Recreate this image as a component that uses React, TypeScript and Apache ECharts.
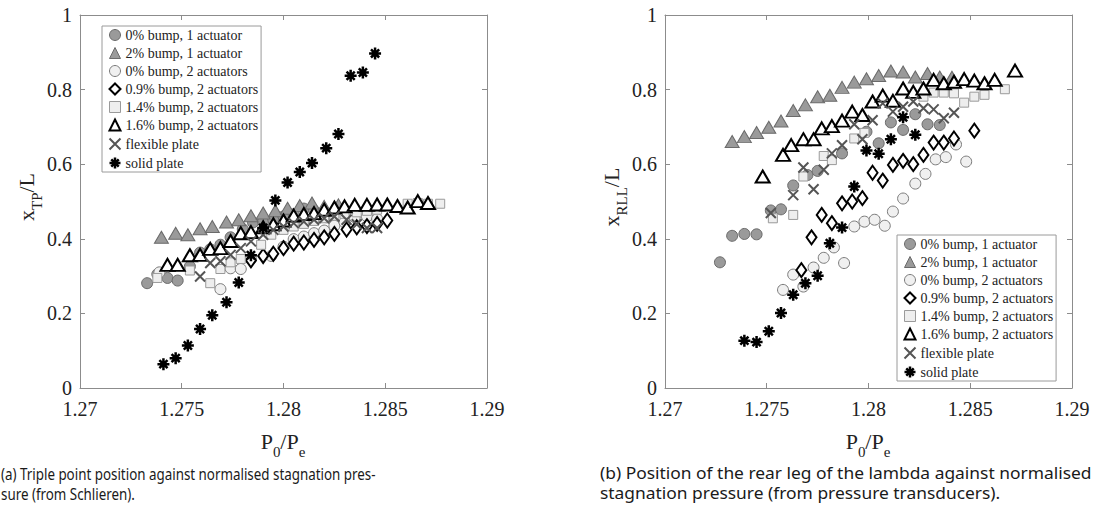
import React, { useEffect, useRef } from "react";
import * as echarts from "echarts";

// ---------- Data ----------
const seriesNames = [
  "0% bump, 1 actuator",
  "2% bump, 1 actuator",
  "0% bump, 2 actuators",
  "0.9% bump, 2 actuators",
  "1.4% bump, 2 actuators",
  "1.6% bump, 2 actuators",
  "flexible plate",
  "solid plate",
];

const xTickValues = [1.27, 1.275, 1.28, 1.285, 1.29];
const yTickValues = [0, 0.2, 0.4, 0.6, 0.8, 1];

// Panel (a): triple point position x_TP/L
const tpBump0Act1 = [[1.2733,0.281],[1.2738,0.305],[1.2743,0.295],[1.2748,0.288],[1.2754,0.326],[1.2759,0.363],[1.2764,0.372],[1.2769,0.384],[1.2774,0.404],[1.278,0.426],[1.2785,0.444],[1.279,0.446],[1.2795,0.451],[1.28,0.46],[1.2805,0.466],[1.281,0.481],[1.2815,0.476],[1.2821,0.458]];
const tpBump2Act1 = [[1.274,0.404],[1.2747,0.415],[1.2753,0.411],[1.2759,0.427],[1.2765,0.433],[1.2772,0.445],[1.2778,0.451],[1.2784,0.462],[1.279,0.469],[1.2796,0.475],[1.2802,0.482],[1.2808,0.489],[1.2814,0.496],[1.282,0.487],[1.2827,0.491]];
const tpBump0Act2 = [[1.2739,0.31],[1.2769,0.265],[1.2774,0.321],[1.2779,0.319],[1.2784,0.346],[1.2794,0.354],[1.28,0.379],[1.2805,0.399],[1.281,0.406],[1.2815,0.415],[1.282,0.422],[1.2825,0.435],[1.283,0.444],[1.2835,0.458],[1.2841,0.46],[1.2846,0.453]];
const tpBump09Act2 = [[1.2784,0.342],[1.279,0.354],[1.2795,0.36],[1.28,0.375],[1.2805,0.387],[1.281,0.39],[1.2815,0.397],[1.282,0.404],[1.2825,0.413],[1.2831,0.425],[1.2836,0.431],[1.2841,0.434],[1.2846,0.44],[1.2851,0.449]];
const tpBump14Act2 = [[1.2738,0.295],[1.2754,0.315],[1.2764,0.281],[1.2769,0.319],[1.2774,0.337],[1.2779,0.346],[1.2789,0.384],[1.2794,0.411],[1.28,0.424],[1.2805,0.433],[1.281,0.44],[1.2815,0.448],[1.282,0.455],[1.2825,0.462],[1.283,0.467],[1.2836,0.471],[1.2841,0.475],[1.2846,0.478],[1.2861,0.494],[1.2866,0.496],[1.2871,0.494],[1.2877,0.494]];
const tpBump16Act2 = [[1.2743,0.33],[1.2748,0.33],[1.2754,0.356],[1.2759,0.357],[1.2764,0.373],[1.2769,0.375],[1.2774,0.394],[1.2779,0.415],[1.2784,0.418],[1.279,0.431],[1.2795,0.439],[1.28,0.449],[1.2805,0.462],[1.281,0.466],[1.2815,0.469],[1.282,0.478],[1.2825,0.484],[1.283,0.487],[1.2835,0.491],[1.2841,0.491],[1.2846,0.492],[1.2851,0.492],[1.2856,0.488],[1.2861,0.484],[1.2866,0.501],[1.2871,0.496]];
const tpFlexible = [[1.2759,0.299],[1.2764,0.335],[1.2769,0.34],[1.2774,0.357],[1.2779,0.375],[1.2784,0.393],[1.279,0.411],[1.2795,0.424],[1.28,0.433],[1.2805,0.442],[1.281,0.446],[1.2815,0.451],[1.282,0.455],[1.2825,0.46],[1.2831,0.451],[1.2836,0.439],[1.2841,0.429],[1.2846,0.429]];
const tpSolid = [[1.2741,0.064],[1.2747,0.08],[1.2753,0.114],[1.2759,0.158],[1.2765,0.195],[1.2772,0.23],[1.2778,0.283],[1.2784,0.356],[1.279,0.429],[1.2796,0.503],[1.2802,0.551],[1.2808,0.579],[1.2814,0.603],[1.2821,0.643],[1.2827,0.681],[1.2833,0.837],[1.2839,0.846],[1.2845,0.897]];

// Panel (b): rear leg of the lambda x_RLL/L
const rllBump0Act1 = [[1.2727,0.337],[1.2733,0.408],[1.2739,0.413],[1.2745,0.412],[1.2752,0.476],[1.2757,0.479],[1.2763,0.543],[1.277,0.571],[1.2775,0.582],[1.2787,0.629],[1.2799,0.687],[1.2805,0.656],[1.2811,0.712],[1.2817,0.692],[1.2823,0.734],[1.2829,0.707],[1.2835,0.705]];
const rllBump2Act1 = [[1.2733,0.661],[1.2739,0.674],[1.2745,0.685],[1.2751,0.699],[1.2757,0.716],[1.2763,0.744],[1.2769,0.759],[1.2775,0.781],[1.2781,0.785],[1.2787,0.806],[1.2793,0.82],[1.2799,0.829],[1.2805,0.838],[1.2811,0.85],[1.2817,0.847],[1.2823,0.834],[1.2829,0.843],[1.2835,0.834],[1.2841,0.833]];
const rllBump0Act2 = [[1.2758,0.263],[1.2763,0.304],[1.2768,0.272],[1.2773,0.323],[1.2778,0.349],[1.2783,0.377],[1.2788,0.335],[1.2793,0.433],[1.2798,0.446],[1.2803,0.451],[1.2808,0.435],[1.2812,0.473],[1.2817,0.508],[1.2823,0.548],[1.2828,0.574],[1.2833,0.613],[1.2838,0.619],[1.2843,0.653],[1.2848,0.607]];
const rllBump09Act2 = [[1.2767,0.316],[1.2772,0.404],[1.2777,0.464],[1.2782,0.442],[1.2787,0.495],[1.2792,0.5],[1.2797,0.509],[1.2802,0.577],[1.2807,0.556],[1.2812,0.598],[1.2817,0.609],[1.2822,0.6],[1.2827,0.625],[1.2832,0.658],[1.2837,0.658],[1.2842,0.669],[1.2852,0.69]];
const rllBump14Act2 = [[1.2753,0.455],[1.2763,0.464],[1.2768,0.567],[1.2778,0.622],[1.2782,0.611],[1.2793,0.669],[1.2798,0.684],[1.2827,0.781],[1.2832,0.792],[1.2837,0.792],[1.2842,0.79],[1.2847,0.765],[1.2852,0.781],[1.2857,0.786],[1.2867,0.801]];
const rllBump16Act2 = [[1.2748,0.567],[1.2758,0.625],[1.2762,0.651],[1.2768,0.667],[1.2773,0.667],[1.2777,0.696],[1.2782,0.702],[1.2787,0.717],[1.2792,0.741],[1.2797,0.732],[1.2802,0.768],[1.2807,0.784],[1.2812,0.77],[1.2817,0.803],[1.2822,0.794],[1.2827,0.803],[1.2832,0.826],[1.2837,0.817],[1.2842,0.821],[1.2847,0.828],[1.2852,0.824],[1.2857,0.817],[1.2862,0.826],[1.2872,0.851]];
const rllFlexible = [[1.2752,0.469],[1.2763,0.517],[1.2768,0.591],[1.2773,0.533],[1.2778,0.585],[1.2782,0.629],[1.2787,0.651],[1.2793,0.707],[1.2797,0.667],[1.2802,0.718],[1.2807,0.763],[1.2812,0.741],[1.2817,0.754],[1.2822,0.768],[1.2827,0.75],[1.2832,0.747],[1.2837,0.723],[1.2842,0.738]];
const rllSolid = [[1.2739,0.127],[1.2745,0.123],[1.2751,0.152],[1.2757,0.201],[1.2763,0.25],[1.2769,0.281],[1.2775,0.301],[1.2781,0.388],[1.2787,0.43],[1.2793,0.54],[1.2799,0.637],[1.2805,0.628],[1.2811,0.667],[1.2817,0.726],[1.2823,0.679]];

const captionA = ["(a) Triple point position against normalised stagnation pres-", "sure (from Schlieren)."];
const captionB = ["(b) Position of the rear leg of the lambda against normalised", "stagnation pressure (from pressure transducers)."];

// ---------- Styles ----------
const CROSS = "path://M0 0 L10 10 M0 10 L10 0";
const STAR = "path://M5 0 L5 10 M0 5 L10 5 M1.6 1.6 L8.4 8.4 M1.6 8.4 L8.4 1.6";
const markerStyles = [
  { symbol: "circle", size: 11, fill: "#9a9a9a", stroke: "#6a6a6a", width: 1 },
  { symbol: "triangle", size: [14, 12], fill: "#9a9a9a", stroke: "#6a6a6a", width: 1 },
  { symbol: "circle", size: 11, fill: "#f0f0f0", stroke: "#7a7a7a", width: 1 },
  { symbol: "diamond", size: [10, 14], fill: "#ffffff", stroke: "#000000", width: 2 },
  { symbol: "rect", size: 9, fill: "#eeeeee", stroke: "#9a9a9a", width: 1 },
  { symbol: "triangle", size: [14, 12], fill: "#ffffff", stroke: "#000000", width: 2 },
  { symbol: CROSS, size: 10, fill: "none", stroke: "#555555", width: 2 },
  { symbol: STAR, size: 12, fill: "#000000", stroke: "#000000", width: 2.5 },
];

const SERIF = '"Liberation Serif", "Times New Roman", serif';
const SANS = '"Noto Sans", "DejaVu Sans", sans-serif';
const AXIS_COLOR = "#8c8c8c";
const TEXT_COLOR = "#222222";

const GRIDS = [
  { left: 80, top: 15, width: 407, height: 373 },
  { left: 665, top: 15, width: 407, height: 373 },
];

function measure(text: string, font: string): number {
  const c = document.createElement("canvas").getContext("2d");
  if (!c) return text.length * 7;
  c.font = font;
  return c.measureText(text).width;
}

function fmtX(v: number): string {
  return String(parseFloat(v.toFixed(3)));
}
function fmtY(v: number): string {
  return String(parseFloat(v.toFixed(1)));
}

export default function App() {
  const ref = useRef<HTMLDivElement>(null);

  useEffect(() => {
    if (!ref.current) return;
    const chart = echarts.init(ref.current, undefined, { renderer: "svg" });

    const panels = [
      [tpBump0Act1, tpBump2Act1, tpBump0Act2, tpBump09Act2, tpBump14Act2, tpBump16Act2, tpFlexible, tpSolid],
      [rllBump0Act1, rllBump2Act1, rllBump0Act2, rllBump09Act2, rllBump14Act2, rllBump16Act2, rllFlexible, rllSolid],
    ];

    const xAxes: any[] = [];
    const yAxes: any[] = [];
    GRIDS.forEach((_, g) => {
      ["bottom", "top"].forEach((pos) => {
        xAxes.push({
          gridIndex: g,
          type: "value",
          position: pos,
          min: xTickValues[0],
          max: xTickValues[xTickValues.length - 1],
          interval: 0.005,
          axisLine: { show: true, onZero: false, lineStyle: { color: AXIS_COLOR, width: 1 } },
          axisTick: { show: true, inside: true, length: 5, lineStyle: { color: AXIS_COLOR } },
          axisLabel: {
            show: pos === "bottom",
            margin: 11,
            fontFamily: SERIF,
            fontSize: 20,
            color: TEXT_COLOR,
            showMinLabel: true,
            showMaxLabel: true,
            formatter: (v: number) => fmtX(v),
          },
          splitLine: { show: false },
        });
      });
      ["left", "right"].forEach((pos) => {
        yAxes.push({
          gridIndex: g,
          type: "value",
          position: pos,
          min: yTickValues[0],
          max: yTickValues[yTickValues.length - 1],
          interval: 0.2,
          axisLine: { show: true, onZero: false, lineStyle: { color: AXIS_COLOR, width: 1 } },
          axisTick: { show: true, inside: true, length: 5, lineStyle: { color: AXIS_COLOR } },
          axisLabel: {
            show: pos === "left",
            margin: 8,
            fontFamily: SERIF,
            fontSize: 20,
            color: TEXT_COLOR,
            showMinLabel: true,
            showMaxLabel: true,
            formatter: (v: number) => fmtY(v),
          },
          splitLine: { show: false },
        });
      });
    });

    const series: any[] = [];
    panels.forEach((panel, p) => {
      panel.forEach((data, i) => {
        const st = markerStyles[i];
        series.push({
          type: "scatter",
          name: seriesNames[i],
          xAxisIndex: p * 2,
          yAxisIndex: p * 2,
          data,
          symbol: st.symbol,
          symbolSize: st.size,
          symbolKeepAspect: true,
          itemStyle: { color: st.fill, borderColor: st.stroke, borderWidth: st.width, opacity: 1 },
          emphasis: { disabled: true },
          z: 2 + i,
        });
      });
    });

    const legendPos = [
      { left: 102, top: 26 },
      { left: 897, top: 235 },
    ];
    const legends = legendPos.map((lp) => ({
      ...lp,
      orient: "vertical",
      itemWidth: 11,
      itemHeight: 11,
      itemGap: 4,
      padding: [2, 3, 2, 5],
      borderColor: "#9a9a9a",
      borderWidth: 1,
      borderRadius: 0,
      backgroundColor: "#ffffff",
      selectedMode: false,
      textStyle: { fontFamily: SERIF, fontSize: 14, color: TEXT_COLOR },
      data: seriesNames.map((n, i) => ({
        name: n,
        icon: markerStyles[i].symbol,
        itemStyle: {
          color: markerStyles[i].fill,
          borderColor: markerStyles[i].stroke,
          borderWidth: markerStyles[i].width,
        },
      })),
    }));

    const nameRich = {
      m: { fontFamily: SERIF, fontSize: 22, fill: TEXT_COLOR },
      s: { fontFamily: SERIF, fontSize: 15, fill: TEXT_COLOR, padding: [22, 0, 0, 0] },
    };

    const capSize = 16;
    const capFont = `${capSize}px ${SANS}`;
    const scaleA = 375 / measure(captionA[0], capFont);
    const scaleB = 492 / measure(captionB[0], capFont);
    const captionEls: any[] = [];
    [
      { lines: captionA, x: 1, s: scaleA },
      { lines: captionB, x: 600, s: scaleB },
    ].forEach((c) => {
      c.lines.forEach((line, k) => {
        captionEls.push({
          type: "text",
          x: c.x,
          y: 473 + k * 20,
          scaleX: c.s,
          style: {
            text: line,
            fontFamily: SANS,
            fontSize: capSize,
            fill: "#1a1a1a",
            align: "left",
            verticalAlign: "middle",
          },
        });
      });
    });

    const graphic: any[] = [
      {
        type: "text",
        x: 26,
        y: 197,
        rotation: Math.PI / 2,
        style: { text: "{m|x}{s|TP}{m|/L}", rich: nameRich, align: "center", verticalAlign: "middle" },
      },
      {
        type: "text",
        x: 611,
        y: 197,
        rotation: Math.PI / 2,
        style: { text: "{m|x}{s|RLL}{m|/L}", rich: nameRich, align: "center", verticalAlign: "middle" },
      },
      {
        type: "text",
        x: 283,
        y: 441,
        style: { text: "{m|P}{s|0}{m|/P}{s|e}", rich: nameRich, align: "center", verticalAlign: "middle" },
      },
      {
        type: "text",
        x: 868,
        y: 441,
        style: { text: "{m|P}{s|0}{m|/P}{s|e}", rich: nameRich, align: "center", verticalAlign: "middle" },
      },
      ...captionEls,
    ];

    chart.setOption({
      animation: false,
      backgroundColor: "#ffffff",
      grid: GRIDS.map((g) => ({ ...g, containLabel: false })),
      xAxis: xAxes,
      yAxis: yAxes,
      legend: legends,
      series,
      graphic,
    });

    return () => chart.dispose();
  }, []);

  return (
    <div
      ref={ref}
      style={{ position: "absolute", left: 0, top: 0, width: 1098, height: 514, background: "#fff" }}
    />
  );
}
